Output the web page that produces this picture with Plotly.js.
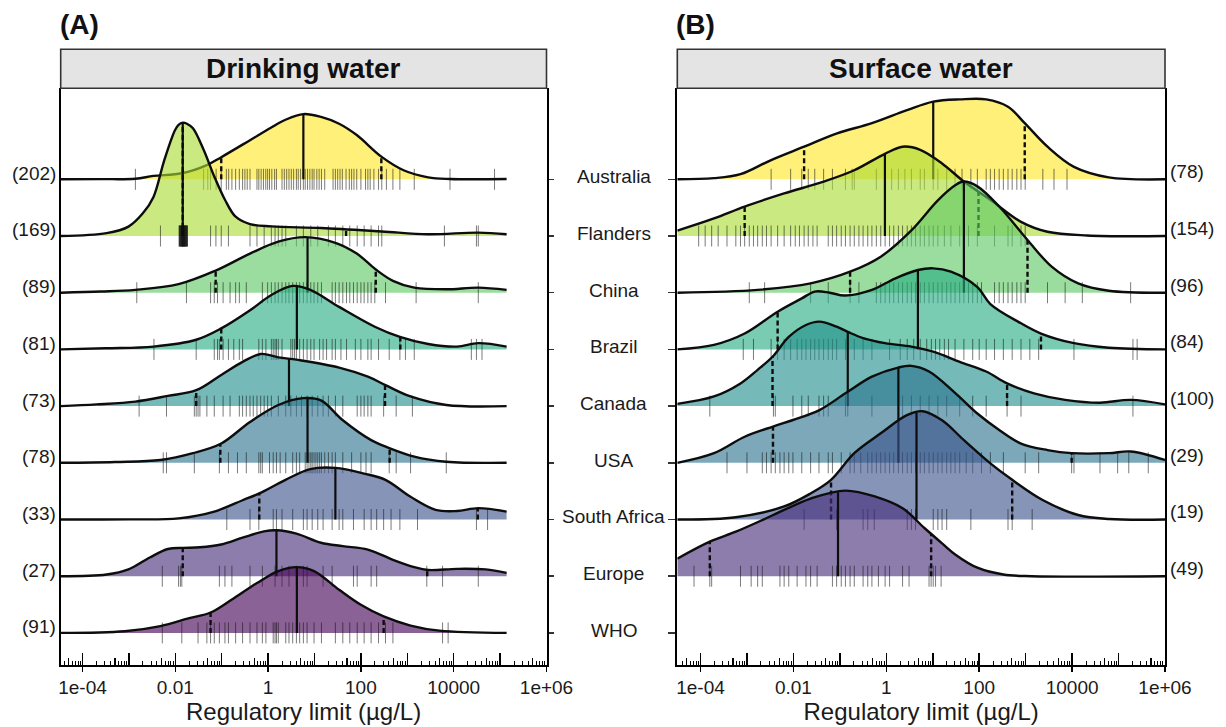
<!DOCTYPE html>
<html><head><meta charset="utf-8">
<script src="https://cdn.plot.ly/plotly-3.0.1.min.js"></script>
<style>html,body{margin:0;padding:0;background:#fff}#chart{width:1226px;height:727px}</style>
</head><body><div id="chart"></div>
<script>
// ---------- categories ----------
const countries = ['Australia','Flanders','China','Brazil','Canada','USA','South Africa','Europe','WHO'];
const viridis9 = ['#FDE725','#AADC32','#5DC863','#27AD81','#21908C','#2C728E','#3B528B','#472D7B','#440154'];
const countsDW = [202,169,89,81,73,78,33,27,91];
const countsSW = [78,154,96,84,100,29,19,49];
const tickVals = [1e-4,1e-2,1,1e2,1e4,1e6];
const tickText = ['1e-04','0.01','1','100','10000','1e+06'];

// ---------- Drinking water: density curves (x = log10 µg/L, h = ridge height in row units) ----------
const dwAustraliaX = [-4.47,-3.6,-2.86,-2.47,-1.86,-1.32,-1.01,-0.39,0.06,0.375,0.76,1.14,1.53,1.91,2.44,2.92,3.45,3.92,5.14];
const dwAustraliaH = [0,0.003,0.01,0.06,0.106,0.25,0.39,0.69,0.91,1.05,1.15,1.10,0.98,0.78,0.40,0.16,0.035,0.006,0.005];
const dwFlandersX = [-4.47,-3.48,-3.01,-2.70,-2.47,-2.24,-2.01,-1.93,-1.84,-1.75,-1.62,-1.39,-1.16,-0.93,-0.70,-0.39,0.07,1.14,2.45,3.45,4.53,5.14];
const dwFlandersH = [0,0.05,0.165,0.40,0.69,1.33,1.86,1.96,2.0,1.98,1.90,1.52,1.05,0.64,0.34,0.21,0.17,0.14,0.08,0.03,0.06,0.03];
const dwChinaX = [-4.47,-3.6,-2.86,-1.93,-1.13,-0.39,0.22,0.80,1.45,1.91,2.32,2.69,3.15,3.84,4.53,5.14];
const dwChinaH = [0,0.02,0.05,0.15,0.39,0.69,0.90,0.98,0.88,0.69,0.41,0.21,0.09,0.06,0.09,0.05];
const dwBrazilX = [-4.47,-3.5,-2.47,-1.55,-1.01,-0.39,0.07,0.53,0.91,1.53,2.30,2.84,3.45,4.07,4.53,5.14];
const dwBrazilH = [0,0.02,0.05,0.17,0.37,0.69,0.96,1.12,1.05,0.75,0.40,0.22,0.095,0.05,0.11,0.05];
const dwCanadaX = [-4.47,-3.7,-2.86,-2.16,-1.55,-1.01,-0.55,-0.16,0.22,0.68,1.53,2.15,2.53,3.07,3.84,5.14];
const dwCanadaH = [0,0.03,0.08,0.18,0.28,0.55,0.78,0.92,0.86,0.81,0.68,0.52,0.37,0.17,0.02,0];
const dwUSAX = [-4.47,-3.3,-2.32,-1.62,-1.01,-0.39,0.22,0.76,1.14,1.61,2.22,2.61,3.15,3.84,5.14];
const dwUSAH = [0,0.015,0.05,0.17,0.34,0.72,1.02,1.14,1.10,0.75,0.40,0.26,0.11,0.02,0];
const dwSouthAfricaX = [-4.47,-3.0,-1.93,-1.16,-0.55,-0.19,0.375,0.91,1.45,2.07,2.53,3.07,3.61,4.07,4.53,5.14];
const dwSouthAfricaH = [0,0.002,0.02,0.14,0.34,0.46,0.70,0.89,0.91,0.81,0.70,0.40,0.17,0.15,0.20,0.14];
const dwEuropeX = [-4.47,-3.48,-3.01,-2.55,-2.16,-1.84,-1.47,-1.01,-0.55,-0.09,0.18,0.61,1.14,1.61,2.15,2.69,3.15,3.45,4.07,4.69,5.14];
const dwEuropeH = [0,0.03,0.12,0.33,0.48,0.50,0.51,0.56,0.68,0.79,0.81,0.75,0.59,0.53,0.47,0.29,0.16,0.11,0.13,0.12,0.06];
const dwWHOX = [-4.47,-3.09,-2.32,-1.70,-1.24,-0.78,-0.24,0.22,0.61,0.99,1.53,1.99,2.49,3.07,3.69,5.14];
const dwWHOH = [0,0.03,0.12,0.26,0.36,0.59,0.88,1.09,1.16,1.09,0.76,0.50,0.29,0.13,0.04,0];

const dwMedian = [0.76,-1.84,0.85,0.62,0.45,0.85,1.45,0.18,0.62];
const dwQLow   = [-1.01,-1.84,-1.13,-1.01,-1.55,-1.03,-0.19,-1.84,-1.24];
const dwQHigh  = [2.44,1.68,2.32,2.85,2.52,2.62,4.52,3.43,2.49];

// ---------- Drinking water: rug values (log10) ----------
const dwRugAustralia = [-2.86,-1.39,-1.30,-1.24,-1.12,-1.01,-0.90,-0.85,-0.78,-0.70,-0.62,-0.55,-0.50,-0.45,-0.39,-0.24,-0.20,-0.15,-0.10,-0.05,-0.01,0.03,0.08,0.14,0.18,0.30,0.35,0.40,0.45,0.50,0.55,0.61,0.65,0.70,0.76,0.80,0.85,0.90,0.95,0.99,1.05,1.10,1.15,1.22,1.40,1.45,1.50,1.55,1.60,1.68,1.75,1.80,1.85,1.91,2.00,2.10,2.15,2.20,2.28,2.38,2.45,2.55,2.69,2.84,3.15,3.92,4.88];
const dwRugFlanders = [-2.32,-1.92,-1.91,-1.90,-1.90,-1.89,-1.88,-1.88,-1.87,-1.86,-1.86,-1.86,-1.85,-1.84,-1.84,-1.84,-1.84,-1.83,-1.82,-1.82,-1.82,-1.81,-1.80,-1.80,-1.80,-1.79,-1.78,-1.78,-1.77,-1.76,-1.76,-1.75,-1.74,-1.74,-1.24,-1.125,-1.01,-0.855,-0.39,-0.24,-0.085,0.07,0.15,0.22,0.30,0.38,0.61,0.76,0.92,1.07,1.30,1.45,1.61,1.76,1.92,2.07,2.22,2.38,2.45,3.80,4.49,4.53];
const dwRugChina = [-2.83,-1.76,-1.24,-1.16,-1.09,-0.97,-0.82,-0.70,-0.62,-0.47,-0.124,-0.01,0.07,0.15,0.22,0.30,0.38,0.45,0.53,0.61,0.68,0.76,0.84,0.92,0.99,1.07,1.15,1.38,1.45,1.53,1.61,1.69,1.76,1.84,1.92,2.00,2.07,2.15,2.22,2.30,2.53,3.19,4.53];
const dwRugBrazil = [-2.46,-1.55,-1.16,-1.09,-1.05,-0.97,-0.855,-0.74,-0.62,-0.55,-0.20,-0.124,-0.047,0.07,0.11,0.15,0.18,0.22,0.30,0.49,0.53,0.57,0.61,0.68,0.76,0.84,0.92,0.99,1.11,1.185,1.26,1.38,1.45,1.57,1.69,1.88,2.00,2.15,2.22,2.38,2.61,2.84,2.96,3.15,4.38,4.49,4.61];
const dwRugCanada = [-2.78,-2.19,-1.59,-1.55,-1.51,-1.47,-1.32,-1.16,-0.97,-0.82,-0.62,-0.55,-0.47,-0.39,-0.32,-0.24,-0.16,-0.085,-0.01,0.07,0.22,0.38,0.49,0.61,0.72,0.84,0.95,1.07,1.185,1.30,1.45,1.61,1.92,2.00,2.07,2.15,2.22,2.49,2.76,3.11];
const dwRugUSA = [-2.26,-2.19,-1.59,-1.05,-0.855,-0.66,-0.47,-0.20,-0.16,-0.124,0.03,0.11,0.18,0.26,0.38,0.53,0.61,0.68,0.80,0.84,0.88,0.92,0.95,0.99,1.03,1.07,1.11,1.15,1.22,1.30,1.38,1.45,1.61,1.80,2.00,2.11,2.22,2.61,2.76,3.07,3.84];
const dwRugSouthAfrica = [-0.89,-0.39,-0.20,0.11,0.18,0.30,0.53,0.76,0.84,0.95,1.07,1.185,1.38,1.53,1.61,1.84,2.07,2.22,2.34,2.49,2.65,2.84,3.22,4.49,4.73];
const dwRugEurope = [-2.28,-1.93,-1.89,-1.86,-1.05,-0.93,-0.78,-0.39,-0.124,0.15,0.30,0.45,0.61,0.76,0.84,1.185,1.38,1.84,1.92,2.22,2.34,3.42,3.76,4.53];
const dwRugWHO = [-2.28,-1.86,-1.51,-1.32,-1.24,-1.16,-1.05,-0.93,-0.855,-0.70,-0.55,-0.39,-0.24,-0.124,-0.047,0.11,0.15,0.18,0.22,0.38,0.45,0.53,0.61,0.68,0.76,0.84,0.99,1.15,1.45,1.61,1.76,1.92,2.07,2.22,2.38,2.53,2.69,3.76,3.88];

// ---------- Surface water: density curves ----------
const swAustraliaX = [-4.50,-3.71,-3.14,-2.48,-1.77,-1.06,-0.31,0.445,1.01,1.58,2.15,2.62,2.98,3.47,4.04,4.79,6.0];
const swAustraliaH = [0,0.02,0.09,0.34,0.575,0.81,0.99,1.22,1.37,1.41,1.41,1.28,0.99,0.575,0.22,0.035,0];
const swFlandersX = [-4.50,-3.71,-3.05,-2.20,-1.35,-0.69,-0.03,0.35,0.73,1.20,1.67,2.24,2.90,3.47,4.32,6.0];
const swFlandersH = [0.095,0.31,0.52,0.75,0.96,1.16,1.45,1.575,1.52,1.28,0.96,0.64,0.25,0.075,0.01,0];
const swChinaX = [-4.50,-2.77,-1.63,-0.78,-0.12,0.54,1.11,1.49,1.67,1.96,2.43,3.04,3.56,4.13,4.79,6.0];
const swChinaH = [0,0.05,0.165,0.37,0.635,1.10,1.63,1.90,1.96,1.875,1.52,0.93,0.46,0.165,0.035,0];
const swBrazilX = [-4.50,-3.71,-3.05,-2.34,-1.82,-1.54,-1.22,-0.89,-0.31,0.185,0.68,1.01,1.39,1.96,2.24,2.90,3.33,4.04,4.79,6.0];
const swBrazilH = [0,0.08,0.28,0.665,0.90,1.02,1.00,0.95,1.05,1.25,1.40,1.43,1.37,1.10,0.80,0.46,0.28,0.11,0.03,0];
const swCanadaX = [-4.50,-3.71,-3.14,-2.77,-2.45,-2.10,-1.73,-1.44,-1.07,-0.83,-0.50,-0.03,0.54,1.01,1.58,2.15,2.60,3.18,3.85,4.60,5.26,6.0];
const swCanadaH = [0.04,0.17,0.40,0.64,0.87,1.22,1.43,1.49,1.40,1.31,1.20,1.11,1.05,0.96,0.78,0.61,0.40,0.225,0.11,0.06,0.11,0.03];
const swUSAX = [-4.50,-3.71,-3.05,-2.44,-2.01,-1.44,-0.88,-0.31,0.255,0.54,0.92,1.49,1.96,2.43,2.90,3.47,3.99,4.79,5.26,6.0];
const swUSAH = [0,0.17,0.46,0.64,0.755,0.93,1.225,1.52,1.68,1.71,1.61,1.225,0.87,0.58,0.34,0.225,0.17,0.17,0.20,0.05];
const swSouthAfricaX = [-4.50,-3.24,-2.20,-1.63,-1.19,-0.69,-0.12,0.445,0.78,1.20,1.67,2.24,2.71,3.375,4.13,4.79,6.0];
const swSouthAfricaH = [0,0.04,0.23,0.46,0.70,1.17,1.52,1.84,1.91,1.75,1.40,0.99,0.70,0.34,0.08,0.01,0];
const swEuropeX = [-4.50,-3.80,-3.24,-2.67,-2.20,-1.63,-0.88,-0.22,0.35,0.82,1.20,1.49,1.96,2.52,3.13,6.0];
const swEuropeH = [0.31,0.61,0.785,0.99,1.17,1.37,1.51,1.40,1.20,0.85,0.58,0.38,0.15,0.03,0,0];

const swMedian = [1.01,-0.03,1.67,0.68,-0.83,0.26,0.65,-1.04];
const swQLow   = [-1.77,-3.05,-0.78,-2.34,-2.45,-2.44,-1.19,-3.80];
const swQHigh  = [2.98,1.985,3.04,3.33,2.60,3.99,2.71,0.965];

// ---------- Surface water: rug values (log10) ----------
const swRugAustralia = [-2.48,-2.06,-1.82,-1.68,-1.54,-1.35,-1.16,-0.88,-0.735,-0.69,-0.215,-0.026,0.115,0.26,0.40,0.54,0.73,0.82,1.01,1.11,1.30,1.48,1.63,1.82,1.96,2.15,2.24,2.33,2.43,2.52,2.62,2.71,2.81,2.90,2.99,3.37,3.61,3.89];
const swRugFlanders = [-4.04,-3.90,-3.76,-3.62,-3.43,-3.24,-3.14,-3.05,-2.95,-2.86,-2.77,-2.67,-2.58,-2.48,-2.34,-2.20,-2.06,-1.96,-1.87,-1.77,-1.68,-1.58,-1.49,-1.25,-1.16,-1.07,-0.97,-0.88,-0.78,-0.69,-0.59,-0.50,-0.40,-0.31,-0.215,-0.12,-0.026,0.07,0.16,0.26,0.35,0.45,0.54,0.63,0.73,0.82,0.92,1.01,1.11,1.25,1.39,1.58,1.77,1.96,2.33,2.62,2.71,2.90,2.99];
const swRugChina = [-2.95,-2.62,-1.63,-1.25,-0.78,-0.59,-0.215,-0.12,-0.026,0.07,0.16,0.26,0.35,0.45,0.54,0.63,0.73,0.82,0.92,1.01,1.11,1.20,1.30,1.39,1.48,1.58,1.67,1.77,1.86,1.96,2.05,2.33,2.43,2.52,2.62,2.71,2.81,2.90,2.99,3.47,3.85,4.22,5.26];
const swRugBrazil = [-3.08,-2.86,-2.48,-2.34,-2.20,-2.06,-1.92,-1.82,-1.73,-1.63,-1.54,-1.45,-1.35,-1.25,-1.16,-1.07,-0.88,-0.69,-0.50,-0.31,0.07,0.30,0.45,0.59,0.73,0.87,0.97,1.06,1.15,1.25,1.34,1.48,1.67,1.86,2.00,2.15,2.33,2.52,2.71,2.90,3.09,3.28,4.04,5.31,5.40];
const swRugCanada = [-3.80,-2.43,-2.39,-2.01,-1.82,-1.68,-1.45,-1.35,-1.25,-0.88,-0.83,-0.31,0.35,0.54,0.73,0.92,1.11,1.30,1.58,1.86,2.15,2.60,2.90,5.31];
const swRugUSA = [-3.43,-3.00,-2.67,-2.58,-2.48,-2.39,-2.29,-2.20,-2.10,-2.01,-1.82,-1.63,-1.45,-1.25,-1.16,-0.97,-0.78,-0.69,-0.55,-0.40,-0.31,-0.215,-0.12,-0.026,0.07,0.16,0.26,0.35,0.45,0.54,0.63,0.73,0.82,0.92,1.01,1.11,1.20,1.30,1.39,1.48,1.58,1.72,1.86,2.05,2.24,2.52,2.99,3.28,3.99,4.04,4.60,4.98,5.22,5.64];
const swRugSouthAfrica = [-1.77,-1.07,-0.50,-0.40,-0.26,0.45,0.54,0.63,1.01,1.11,1.20,1.30,1.82,2.62,2.71,3.14];
const swRugEurope = [-4.14,-3.80,-3.76,-3.14,-2.91,-2.77,-2.67,-2.29,-2.20,-2.10,-1.92,-1.73,-1.63,-1.49,-1.16,-1.07,-0.97,-0.88,-0.78,-0.69,-0.50,-0.40,-0.31,-0.17,-0.026,0.07,0.35,0.49,0.92,0.965,1.01,1.06,1.18];

// ---------- tables built from the arrays above ----------
const dwX = [dwAustraliaX,dwFlandersX,dwChinaX,dwBrazilX,dwCanadaX,dwUSAX,dwSouthAfricaX,dwEuropeX,dwWHOX];
const dwH = [dwAustraliaH,dwFlandersH,dwChinaH,dwBrazilH,dwCanadaH,dwUSAH,dwSouthAfricaH,dwEuropeH,dwWHOH];
const dwRug = [dwRugAustralia,dwRugFlanders,dwRugChina,dwRugBrazil,dwRugCanada,dwRugUSA,dwRugSouthAfrica,dwRugEurope,dwRugWHO];
const swX = [swAustraliaX,swFlandersX,swChinaX,swBrazilX,swCanadaX,swUSAX,swSouthAfricaX,swEuropeX];
const swH = [swAustraliaH,swFlandersH,swChinaH,swBrazilH,swCanadaH,swUSAH,swSouthAfricaH,swEuropeH];
const swRug = [swRugAustralia,swRugFlanders,swRugChina,swRugBrazil,swRugCanada,swRugUSA,swRugSouthAfrica,swRugEurope];

const FONT = 'Liberation Sans, Arial, Helvetica, sans-serif';
const INK = '#0d0d0d';
const FILL_ALPHA = 0.62;

function rgba(hex, a){
  const n = parseInt(hex.slice(1),16);
  return 'rgba('+((n>>16)&255)+','+((n>>8)&255)+','+(n&255)+','+a+')';
}
function hAt(xs, hs, v){
  for(let k=0;k<xs.length-1;k++){
    if(v>=xs[k] && v<=xs[k+1]){
      const t=(v-xs[k])/(xs[k+1]-xs[k]);
      return hs[k]+t*(hs[k+1]-hs[k]);
    }
  }
  return 0;
}
const pw = v => Math.pow(10, v);

const traces = [];
function addPanel(X, H, RUG, MED, QL, QH, xa, ya){
  for(let i=0;i<X.length;i++){
    const base = countries.length - i;
    const xs = X[i], hs = H[i];
    const common = {xaxis:xa, yaxis:ya, showlegend:false, hoverinfo:'skip', type:'scatter'};
    traces.push(Object.assign({}, common, {
      x:[pw(xs[0]), pw(xs[xs.length-1])], y:[base, base], mode:'lines',
      line:{width:0, color:'rgba(0,0,0,0)'}
    }));
    traces.push(Object.assign({}, common, {
      x: xs.map(pw), y: hs.map(h=>base+h), mode:'lines',
      line:{shape:'spline', smoothing:1, color:INK, width:2.4},
      fill:'tonexty', fillcolor: rgba(viridis9[i], FILL_ALPHA)
    }));
    traces.push(Object.assign({}, common, {
      x: RUG[i].map(pw), y: RUG[i].map(()=>base), mode:'markers',
      marker:{symbol:'line-ns', size:15, color:'rgba(15,15,15,0.55)', line:{width:1, color:'rgba(15,15,15,0.55)'}}
    }));
    traces.push(Object.assign({}, common, {
      x:[pw(QL[i]),pw(QL[i]),null,pw(QH[i]),pw(QH[i])],
      y:[base, base+hAt(xs,hs,QL[i]), null, base, base+hAt(xs,hs,QH[i])],
      mode:'lines', line:{color:INK, width:2.4, dash:'5px,3px'}
    }));
    traces.push(Object.assign({}, common, {
      x:[pw(MED[i]),pw(MED[i])], y:[base, base+hAt(xs,hs,MED[i])],
      mode:'lines', line:{color:INK, width:2.2}
    }));
  }
}
addPanel(dwX, dwH, dwRug, dwMedian, dwQLow, dwQHigh, 'x', 'y');
addPanel(swX, swH, swRug, swMedian, swQLow, swQHigh, 'x2', 'y2');
// empty traces so the overlay tick axes are rendered
traces.push({type:'scatter', x:[], y:[], xaxis:'x3', yaxis:'y', showlegend:false});
traces.push({type:'scatter', x:[], y:[], xaxis:'x4', yaxis:'y2', showlegend:false});

// log tick positions (axis decoration)
const decadeVals = [], fiveVals = [], minorVals = [];
for(let d=-5; d<=6; d++){
  if(d>=-4) decadeVals.push(pw(d));
  if(d<=5){
    fiveVals.push(5*pw(d));
    [2,3,4,6,7,8,9].forEach(m=>minorVals.push(m*pw(d)));
  }
}

const W = 1226, Hh = 727;
const px = v => v/W, py = v => 1 - v/Hh;
const domA = [px(60.7), px(546.5)], domB = [px(677.3), px(1165)];
const domY = [py(664.5), py(88.3)];
const yRange = [0.443, 10.605];

function mainX(dom, rng, anchor){
  return {domain:dom, type:'log', range:rng, anchor:anchor,
    tickvals:tickVals, ticktext:tickText, ticks:'outside', ticklen:5, tickwidth:1.5, tickcolor:'#000',
    showline:true, linecolor:'#000', linewidth:2, showgrid:false, zeroline:false,
    tickfont:{family:FONT, size:19, color:'#1a1a1a'},
    title:{text:'Regulatory limit (µg/L)', font:{family:FONT, size:24, color:'#1a1a1a'}, standoff:3},
    minor:{tickvals:minorVals, ticks:'inside', ticklen:4, tickwidth:1, tickcolor:'#000', showgrid:false},
    automargin:false, fixedrange:true};
}
function overX(over, rng, anchor){
  return {overlaying:over, anchor:anchor, type:'log', range:rng,
    tickvals:decadeVals, ticks:'inside', ticklen:12, tickwidth:1.5, tickcolor:'#000',
    showticklabels:false, showline:false, showgrid:false, zeroline:false,
    minor:{tickvals:fiveVals, ticks:'inside', ticklen:7, tickwidth:1.2, tickcolor:'#000', showgrid:false},
    automargin:false};
}
function yAx(anchor, side, len){
  return {domain:domY, range:yRange, anchor:anchor, side:side,
    tickvals:[1,2,3,4,5,6,7,8,9], ticks:'outside', ticklen:len, tickwidth:1.5, tickcolor:'#333',
    showticklabels:false, showline:true, mirror:true, linecolor:'#000', linewidth:2,
    showgrid:false, zeroline:false, automargin:false, fixedrange:true};
}

const annotations = [];
const txt = (o)=>Object.assign({showarrow:false, font:{family:FONT, size:19, color:'#1a1a1a'}}, o);
annotations.push(txt({xref:'paper', yref:'paper', x:px(58), y:py(24), xanchor:'left', yanchor:'middle', text:'<b>(A)</b>', font:{family:FONT, size:28, color:'#111'}}));
annotations.push(txt({xref:'paper', yref:'paper', x:px(674), y:py(24), xanchor:'left', yanchor:'middle', text:'<b>(B)</b>', font:{family:FONT, size:28, color:'#111'}}));
annotations.push(txt({xref:'x domain', yref:'paper', x:0.5, y:py(68.8), xanchor:'center', yanchor:'middle', text:'<b>Drinking water</b>', font:{family:FONT, size:28, color:'#111'}}));
annotations.push(txt({xref:'x2 domain', yref:'paper', x:0.5, y:py(68.8), xanchor:'center', yanchor:'middle', text:'<b>Surface water</b>', font:{family:FONT, size:28, color:'#111'}}));
countries.forEach((c,i)=>{
  const base = countries.length - i;
  annotations.push(txt({xref:'paper', yref:'y2', x:px(614), y:base+0.045, xanchor:'center', yanchor:'middle', text:c}));
  annotations.push(txt({xref:'paper', yref:'y', x:px(57.5), y:base+0.106, xanchor:'right', yanchor:'middle', text:'('+countsDW[i]+')'}));
  if(i < countsSW.length)
    annotations.push(txt({xref:'paper', yref:'y2', x:px(1168), y:base+0.135, xanchor:'left', yanchor:'middle', text:'('+countsSW[i]+')'}));
});

const shapes = [
  {type:'rect', xref:'x domain', yref:'paper', x0:0, x1:1, y0:py(88.3), y1:py(49.3), fillcolor:'#E4E4E4', line:{color:'#333', width:1.6}, layer:'above'},
  {type:'rect', xref:'x2 domain', yref:'paper', x0:0, x1:1, y0:py(88.3), y1:py(49.3), fillcolor:'#E4E4E4', line:{color:'#333', width:1.6}, layer:'above'}
];

const layout = {
  width:W, height:Hh, margin:{l:0, r:0, t:0, b:0, pad:0},
  paper_bgcolor:'#fff', plot_bgcolor:'#fff', showlegend:false,
  font:{family:FONT, color:'#1a1a1a'},
  xaxis: mainX(domA, [-4.47, 6], 'y'),
  xaxis2: mainX(domB, [-4.5, 6], 'y2'),
  xaxis3: overX('x', [-4.47, 6], 'y'),
  xaxis4: overX('x2', [-4.5, 6], 'y2'),
  yaxis: yAx('x', 'right', 5),
  yaxis2: yAx('x2', 'left', 7),
  annotations: annotations, shapes: shapes
};
Plotly.newPlot('chart', traces, layout, {staticPlot:true, displayModeBar:false});
</script>
</body></html>
